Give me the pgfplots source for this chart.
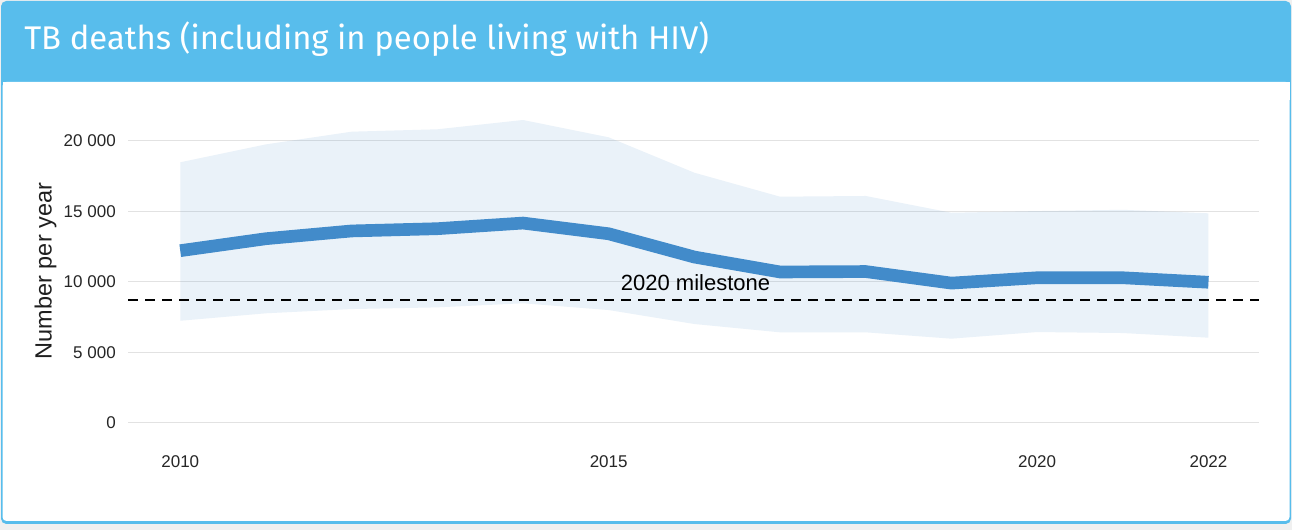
\documentclass[border=0pt]{standalone}
\usepackage{pgfplots}
\pgfplotsset{compat=1.18}
\usepackage{pgfplotstable}
\usepackage{fontspec}
\setmainfont{Liberation Sans}
\newfontfamily\titlefont{Fira Sans}
\definecolor{hdr}{HTML}{58BDEC}
\definecolor{tbline}{HTML}{428BCA}
\definecolor{gridc}{HTML}{E2E2E2}
\definecolor{bg}{HTML}{F0F0F0}

\pgfplotstableread{
year mid
2010 12200
2011 13050
2012 13600
2013 13760
2014 14160
2015 13400
2016 11750
2017 10690
2018 10720
2019 9900
2020 10280
2021 10280
2022 9960
}\tbmid

% uncertainty band: upper bound 2010-2022, then lower bound 2022-2010
\pgfplotstableread{
year val
2010 18470
2011 19740
2012 20640
2013 20810
2014 21470
2015 20240
2016 17730
2017 16030
2018 16080
2019 14890
2020 15010
2021 15100
2022 14850
2022 6030
2021 6360
2020 6430
2019 5960
2018 6410
2017 6410
2016 7000
2015 7990
2014 8470
2013 8180
2012 8060
2011 7760
2010 7230
}\tbband

\begin{document}
\begin{tikzpicture}
\path[use as bounding box] (0,0) rectangle (969pt,397.5pt);
\begin{scope}[x=0.75pt,y=-0.75pt,shift={(0,397.5pt)}]
  \fill[bg] (0,0) rectangle (1292,530);
  \fill[hdr, rounded corners=4pt] (1,1) rectangle (1291,524);
  \fill[white, rounded corners=3pt] (2.5,82) rectangle (1289.5,521);
  \fill[white] (2.5,82) rectangle (1289.5,100);
  \node[anchor=base west, text=white, inner sep=0pt] at (24,50)
    {\titlefont\fontsize{24.6}{28}\selectfont TB deaths (including in people living with HIV)};
  \node[rotate=90, anchor=base, inner sep=0pt, text=black!88] at (51.5,271)
    {\fontsize{17.6}{20}\selectfont Number per year};
\end{scope}
\begin{axis}[
  at={(96pt,69.9pt)}, anchor=south west,
  scale only axis, width=848.25pt, height=243.2pt,
  xmin=2009.39, xmax=2022.59, ymin=-1000, ymax=22000,
  axis line style={draw=none}, major tick length=0pt,
  scaled y ticks=false,
  xtick={2010,2015,2020,2022},
  xticklabels={2010,2015,2020,2022},
  ytick={0,5000,10000,15000,20000},
  yticklabels={0,5 000,10 000,15 000,20 000},
  ymajorgrids, grid style={gridc, line width=0.75pt},
  tick label style={font=\fontsize{12.75}{14}\selectfont, text=black!85, inner sep=0pt},
  yticklabel style={xshift=-9pt},
  xticklabel style={yshift=-13.6pt},
  clip=false,
]
\addplot[fill=tbline, fill opacity=0.11, draw=none] table[x=year, y=val] {\tbband};
\addplot[black, line width=1.9pt, dash pattern=on 7.5pt off 5.25pt] coordinates {(2009.39,8700) (2022.59,8700)};
\addplot[tbline, line width=9.5pt, line join=miter, line cap=butt] table[x=year, y=mid] {\tbmid};
\node[anchor=base west, inner sep=0pt, font=\fontsize{16.5}{18}\selectfont] at (axis cs:2015.14,9410) {2020 milestone};
\end{axis}
\end{tikzpicture}
\end{document}
